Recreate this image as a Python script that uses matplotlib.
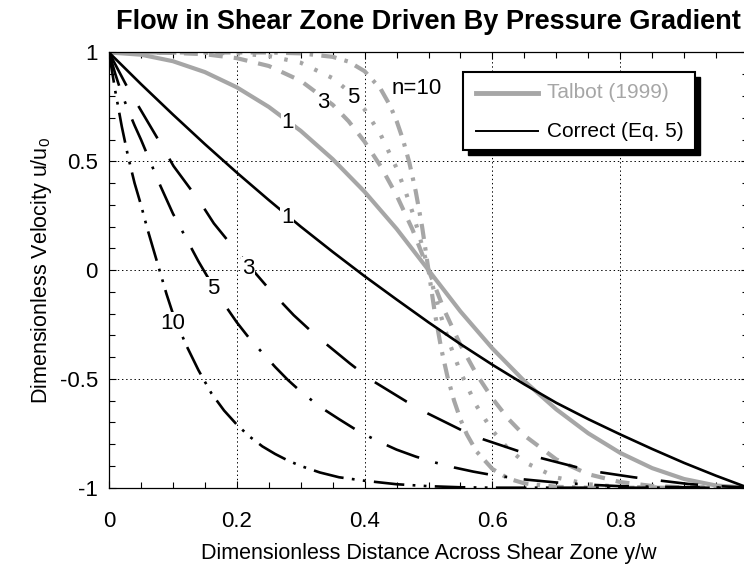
import matplotlib
matplotlib.use("Agg")
import matplotlib.pyplot as plt
from matplotlib.lines import Line2D
from matplotlib.patches import Rectangle
from matplotlib.ticker import MultipleLocator, FixedLocator, FixedFormatter

plt.rcParams['font.family'] = ['Liberation Sans', 'DejaVu Sans']
plt.rcParams['lines.scale_dashes'] = False

# Talbot (1999) curves, grey
talbot_x1 = [0, 0.05, 0.1, 0.15, 0.2, 0.25, 0.3, 0.35, 0.4, 0.45, 0.5,
             0.55, 0.6, 0.65, 0.7, 0.75, 0.8, 0.85, 0.9, 0.95, 1]
talbot_n1 = [1, 0.99, 0.96, 0.91, 0.84, 0.75, 0.64, 0.51, 0.36, 0.19, 0,
             -0.19, -0.36, -0.51, -0.64, -0.75, -0.84, -0.91, -0.96, -0.99, -1]

talbot_x3 = [0, 0.1, 0.15, 0.2, 0.25, 0.3, 0.35, 0.375, 0.4, 0.425, 0.45, 0.475, 0.5,
             0.525, 0.55, 0.575, 0.6, 0.625, 0.65, 0.7, 0.75, 0.8, 0.85, 0.9, 1]
talbot_n3 = [1, 0.998, 0.992, 0.974, 0.938, 0.870, 0.760, 0.684, 0.590, 0.478, 0.344, 0.186, 0,
             -0.186, -0.344, -0.478, -0.590, -0.684, -0.760, -0.870, -0.938, -0.974, -0.992, -0.998, -1]

talbot_x5 = [0, 0.15, 0.2, 0.25, 0.3, 0.35, 0.375, 0.4, 0.425, 0.45, 0.465, 0.475, 0.485, 0.5,
             0.515, 0.525, 0.535, 0.55, 0.575, 0.6, 0.625, 0.65, 0.7, 0.75, 0.8, 0.85, 1]
talbot_n5 = [1, 0.999, 0.996, 0.984, 0.953, 0.882, 0.822, 0.738, 0.623, 0.469, 0.353, 0.265, 0.167, 0,
             -0.167, -0.265, -0.353, -0.469, -0.623, -0.738, -0.822, -0.882, -0.953, -0.984, -0.996, -0.999, -1]

talbot_x10 = [0, 0.25, 0.3, 0.35, 0.375, 0.4, 0.425, 0.44, 0.45, 0.46, 0.47, 0.48, 0.49, 0.5,
              0.51, 0.52, 0.53, 0.54, 0.55, 0.56, 0.575, 0.6, 0.625, 0.65, 0.7, 0.75, 1]
talbot_n10 = [1, 1.0, 0.996, 0.980, 0.958, 0.914, 0.833, 0.755, 0.686, 0.600, 0.494, 0.362, 0.199, 0,
              -0.199, -0.362, -0.494, -0.600, -0.686, -0.755, -0.833, -0.914, -0.958, -0.980, -0.996, -1.0, -1]

# Correct (Eq. 5) curves, black
correct_x1 = [0, 0.05, 0.1, 0.15, 0.2, 0.25, 0.3, 0.35, 0.4, 0.45, 0.5,
              0.55, 0.6, 0.65, 0.7, 0.75, 0.8, 0.85, 0.9, 0.95, 1]
correct_n1 = [1, 0.855, 0.715, 0.579, 0.448, 0.322, 0.200, 0.084, -0.028, -0.135, -0.24,
              -0.34, -0.435, -0.525, -0.61, -0.685, -0.755, -0.822, -0.886, -0.945, -1]

correct_x3 = [0, 0.03, 0.049, 0.083, 0.101, 0.142, 0.164, 0.198, 0.225, 0.252, 0.289, 0.323,
              0.377, 0.411, 0.466, 0.499, 0.552, 0.586, 0.644, 0.675, 0.732, 0.764, 0.821,
              0.853, 0.907, 0.944, 1]
correct_n3 = [1, 0.833, 0.739, 0.57, 0.478, 0.315, 0.215, 0.092, 0.0, -0.092, -0.207, -0.299,
              -0.429, -0.506, -0.605, -0.659, -0.736, -0.778, -0.835, -0.863, -0.906, -0.927, -0.952,
              -0.964, -0.983, -0.991, -1]

correct_x5 = [0, 0.01, 0.02, 0.03, 0.04, 0.05, 0.06, 0.07, 0.08, 0.09, 0.1, 0.12, 0.14, 0.16,
              0.18, 0.2, 0.22, 0.24, 0.26, 0.28, 0.3, 0.33, 0.36, 0.39, 0.42, 0.45, 0.48, 0.51,
              0.54, 0.57, 0.6, 0.65, 0.7, 0.75, 0.8, 0.9, 1]
correct_n5 = [1, 0.9, 0.81, 0.735, 0.665, 0.6, 0.53, 0.46, 0.39, 0.325, 0.26, 0.15, 0.04, -0.06,
              -0.155, -0.24, -0.315, -0.38, -0.445, -0.505, -0.558, -0.628, -0.685, -0.74, -0.785,
              -0.825, -0.857, -0.884, -0.907, -0.926, -0.942, -0.962, -0.976, -0.986, -0.993,
              -0.998, -1]

correct_x10 = [0, 0.01, 0.02, 0.03, 0.04, 0.05, 0.06, 0.07, 0.08, 0.09, 0.1, 0.12, 0.14, 0.16,
               0.18, 0.2, 0.22, 0.24, 0.26, 0.28, 0.3, 0.33, 0.36, 0.4, 0.45, 0.5, 0.55, 0.6, 1]
correct_n10 = [1, 0.82, 0.66, 0.52, 0.40, 0.30, 0.19, 0.09, -0.01, -0.11, -0.2, -0.34, -0.46,
               -0.565, -0.645, -0.71, -0.765, -0.81, -0.845, -0.875, -0.9, -0.93, -0.952, -0.968,
               -0.984, -0.993, -0.998, -1, -1]

x_ticks = [0, 0.2, 0.4, 0.6, 0.8, 1]
x_tick_labels = ['0', '0.2', '0.4', '0.6', '0.8', '1']
y_ticks = [-1, -0.5, 0, 0.5, 1]
y_tick_labels = ['-1', '-0.5', '0', '0.5', '1']

grey = '#a6a6a6'

fig = plt.figure(figsize=(7.44, 5.65), dpi=100)
ax = fig.add_axes([0.1465, 0.1368, 0.8589, 0.7703])

gw = 3.0
ax.plot(talbot_x1, talbot_n1, color=grey, lw=gw)
ax.plot(talbot_x3, talbot_n3, color=grey, lw=gw, dashes=(10, 8))
ax.plot(talbot_x5, talbot_n5, color=grey, lw=gw, dashes=(2.5, 9))
ax.plot(talbot_x10, talbot_n10, color=grey, lw=gw, dashes=(11, 6, 2.5, 6))

bw = 1.9
ax.plot(correct_x1, correct_n1, color='black', lw=bw)
ax.plot(correct_x3, correct_n3, color='black', lw=bw, dashes=(27, 17))
ax.plot(correct_x5, correct_n5, color='black', lw=bw, dashes=(25, 12, 2, 12))
ax.plot(correct_x10, correct_n10, color='black', lw=bw, dashes=(22, 6, 2, 6, 2, 6))

# curve labels
lab = dict(fontsize=16, ha='center', va='center', zorder=5,
           bbox=dict(facecolor='white', edgecolor='none', pad=0.5))
ax.text(0.482, 0.836, 'n=10', **lab)
ax.text(0.382, 0.795, '5', **lab)
ax.text(0.335, 0.772, '3', **lab)
ax.text(0.280, 0.676, '1', **lab)
ax.text(0.279, 0.244, '1', **lab)
ax.text(0.2175, 0.009, '3', **lab)
ax.text(0.163, -0.083, '5', **lab)
ax.text(0.100, -0.244, '10', **lab)

ax.set_xlim(0, 1)
ax.set_ylim(-1, 1)
ax.xaxis.set_major_locator(FixedLocator(x_ticks))
ax.xaxis.set_major_formatter(FixedFormatter(x_tick_labels))
ax.yaxis.set_major_locator(FixedLocator(y_ticks))
ax.yaxis.set_major_formatter(FixedFormatter(y_tick_labels))
ax.xaxis.set_minor_locator(MultipleLocator(0.05))
ax.yaxis.set_minor_locator(MultipleLocator(0.1))
ax.tick_params(which='both', direction='in', top=True, right=True, width=0.8)
ax.tick_params(which='major', length=5, labelsize=16)
ax.tick_params(axis='x', which='major', pad=17)
ax.tick_params(axis='y', which='major', pad=8)
ax.tick_params(which='minor', length=4.5)
ax.grid(True, which='major', color='black', linestyle=(0, (1, 2)), linewidth=0.7)
for s in ax.spines.values():
    s.set_linewidth(0.9)

ax.set_title('Flow in Shear Zone Driven By Pressure Gradient', fontsize=19.5,
             fontweight='bold', pad=17)
ax.set_xlabel('Dimensionless Distance Across Shear Zone y/w', fontsize=15.5, labelpad=8)
ax.set_ylabel('Dimensionless Velocity u/u$_{\\mathregular{0}}$', fontsize=15.5, labelpad=4)

# legend with hard black shadow
tr = ax.transAxes
ax.add_patch(Rectangle((0.5618, 0.764), 0.363, 0.179, transform=tr, facecolor='black',
                       edgecolor='black', zorder=8))
ax.add_patch(Rectangle((0.554, 0.776), 0.363, 0.179, transform=tr, facecolor='white',
                       edgecolor='black', lw=1.5, zorder=9))
ax.add_line(Line2D([0.574, 0.671], [0.907, 0.907], transform=tr, color=grey, lw=gw + 0.5, zorder=10))
ax.add_line(Line2D([0.574, 0.671], [0.819, 0.819], transform=tr, color='black', lw=1.4, zorder=10))
ax.text(0.685, 0.907, 'Talbot (1999)', transform=tr, color=grey, fontsize=15,
        va='center', ha='left', zorder=11)
ax.text(0.685, 0.819, 'Correct (Eq. 5)', transform=tr, color='black', fontsize=15,
        va='center', ha='left', zorder=11)

fig.savefig('out.png', dpi=100)
